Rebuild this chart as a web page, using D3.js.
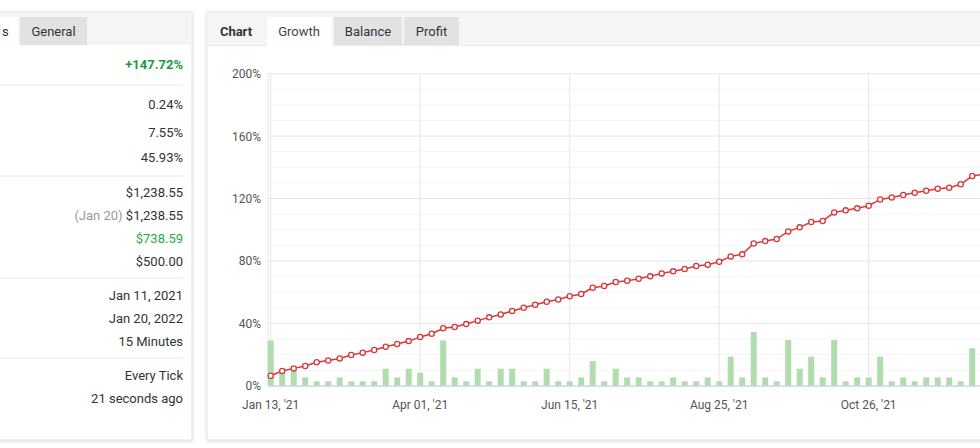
<!DOCTYPE html>
<html><head><meta charset="utf-8">
<script src="https://cdn.jsdelivr.net/npm/d3@7"></script>
<style>
body{margin:0;background:#fff;font-family:Roboto,"Noto Sans",sans-serif;}
svg{display:block}
</style></head><body>
<svg id="c" width="980" height="448"></svg>
<script>
const growth=[6.4,9.4,11.1,12.6,15,16.2,17.5,19.7,21.2,22.9,25,26.7,28.6,31.2,33.3,36.8,37.6,39.5,41.7,43.8,45.7,47.9,50,51.9,53.8,55.3,57.3,58.8,62.8,63.9,
66.5,67.3,68.6,70.1,72,73.3,74.8,76.7,77.6,79.5,82.9,84.2,91.2,92.7,94,98.9,101.5,104.9,105.6,111.1,112.4,113.7,115.4,119.4,120.7,122.2,123.7,125,126.3,126.9,129.1,134.4,135.7];
const profit=[29,8,10,5.3,2.8,2.8,5.3,2.8,2.8,2.8,10.9,5.3,10.9,8.3,2.8,29,5.3,2.8,10.9,2.8,10.9,10.9,2.8,2.8,10.9,2.8,2.8,5.3,15.8,2.8,
10.9,5.3,5.3,2.8,2.8,5.3,2.8,2.8,5.3,2.8,18.6,5.3,34.4,5.3,2.8,29.3,10.9,18.6,5.3,29.3,2.8,5.3,5.3,18.6,2.8,5.3,2.8,5.3,5.3,5.3,2.8,24,2.8];
const xTickIdx=[0,13,26,39,52];
const xTickLabels=["Jan 13, '21","Apr 01, '21","Jun 15, '21","Aug 25, '21","Oct 26, '21"];
const yTicks=[0,40,80,120,160,200];
const statsValues=[["+147.72%","#1a9a3a",true],null,["0.24%"],["7.55%"],["45.93%"],null,["$1,238.55"],["$1,238.55","",false,"(Jan 20) "],["$738.59","#2aa84a"],["$500.00"],null,["Jan 11, 2021"],["Jan 20, 2022"],["15 Minutes"],null,["Every Tick"],["21 seconds ago"]];
const statsY=[64,85,104,132,157,176,192,215,238,261,278,295,318,341,358,375,398];

const svg=d3.select("#c");
const defs=svg.append("defs");
const f=defs.append("filter").attr("id","sh").attr("x","-5%").attr("y","-5%").attr("width","110%").attr("height","110%");
f.append("feDropShadow").attr("dx",0).attr("dy",1).attr("stdDeviation",1.5).attr("flood-color","#000").attr("flood-opacity",0.15);

// left card
svg.append("rect").attr("x",-10).attr("y",12).attr("width",202).attr("height",428).attr("fill","#fff").attr("stroke","#e3e3e3").attr("filter","url(#sh)");
svg.append("rect").attr("x",-10).attr("y",13).attr("width",201).attr("height",32).attr("fill","#f5f5f5");
svg.append("rect").attr("x",-10).attr("y",17).attr("width",28).attr("height",29).attr("fill","#fff");
svg.append("text").attr("x",2).attr("y",36).text("s").attr("font-size",13).attr("fill","#333");
svg.append("rect").attr("x",20).attr("y",17).attr("width",67).attr("height",28).attr("fill","#e2e2e2");
svg.append("text").attr("x",53.5).attr("y",36).attr("text-anchor","middle").text("General").attr("font-size",13).attr("fill","#333");
statsValues.forEach((s,i)=>{
  const y=statsY[i];
  if(!s){svg.append("line").attr("x1",-10).attr("x2",183).attr("y1",y).attr("y2",y).attr("stroke","#e6e6e6");return;}
  const t=svg.append("text").attr("x",183).attr("y",y+4.5).attr("text-anchor","end").attr("font-size",13)
   .attr("fill",s[1]||"#333").attr("font-weight",s[2]?"bold":"normal");
  if(s[3]) t.append("tspan").attr("fill","#999").text(s[3]);
  t.append("tspan").text(s[0]);
});

// right card
svg.append("rect").attr("x",207).attr("y",12).attr("width",790).attr("height",428).attr("fill","#fff").attr("stroke","#e3e3e3").attr("filter","url(#sh)");
svg.append("rect").attr("x",208).attr("y",13).attr("width",780).attr("height",32).attr("fill","#f5f5f5");
svg.append("line").attr("x1",208).attr("x2",980).attr("y1",45.5).attr("y2",45.5).attr("stroke","#ececec");
svg.append("text").attr("x",236).attr("y",36).attr("text-anchor","middle").text("Chart").attr("font-size",13).attr("font-weight","bold").attr("fill","#333");
svg.append("rect").attr("x",267).attr("y",17).attr("width",65).attr("height",29).attr("fill","#fff");
svg.append("text").attr("x",299).attr("y",36).attr("text-anchor","middle").text("Growth").attr("font-size",13).attr("fill","#444");
[["Balance",334,68],["Profit",404,55]].forEach(([t,x,w])=>{
  svg.append("rect").attr("x",x).attr("y",17).attr("width",w).attr("height",28).attr("fill","#e2e2e2");
  svg.append("text").attr("x",x+w/2).attr("y",36).attr("text-anchor","middle").text(t).attr("font-size",13).attr("fill","#333");
});

const x=d3.scaleLinear().domain([0,1]).range([270.7,282.2]);
const y=d3.scaleLinear().domain([0,200]).range([385.7,73.7]);
const left=268, right=985;
const g=svg.append("g");
// minor grid
d3.range(0,201,10).forEach(v=>{ if(v%40) g.append("line").attr("x1",left).attr("x2",right).attr("y1",y(v)).attr("y2",y(v)).attr("stroke","#f4f4f4");});
g.selectAll(".yg").data(yTicks).join("line").attr("x1",left).attr("x2",right).attr("y1",d=>y(d)).attr("y2",d=>y(d)).attr("stroke","#e6e6e6");
g.selectAll(".xg").data(xTickIdx).join("line").attr("x1",d=>x(d)).attr("x2",d=>x(d)).attr("y1",y(200)).attr("y2",y(0)).attr("stroke","#e6e6e6");
g.append("line").attr("x1",left).attr("x2",left).attr("y1",y(200)).attr("y2",y(0)).attr("stroke","#e6e6e6");
g.selectAll(".yl").data(yTicks).join("text").attr("x",261).attr("y",d=>y(d)+4.5).attr("text-anchor","end").attr("font-size",12).attr("fill","#555").text(d=>d+"%");
g.selectAll(".xl").data(xTickIdx).join("text").attr("x",d=>x(d)).attr("y",409).attr("text-anchor","middle").attr("font-size",12).attr("fill","#555").text((d,i)=>xTickLabels[i]);
g.selectAll(".bar").data(profit).join("rect").attr("x",(d,i)=>x(i)-3).attr("width",6).attr("y",d=>y(d)).attr("height",d=>y(0)-y(d)).attr("fill","#b1dcae");
g.append("line").attr("x1",left).attr("x2",right).attr("y1",y(0)+0.5).attr("y2",y(0)+0.5).attr("stroke","#c8d0e0");
g.append("path").datum(growth).attr("d",d3.line().x((d,i)=>x(i)).y(d=>y(d))).attr("fill","none").attr("stroke","#d9383a").attr("stroke-width",1.5);
g.selectAll(".pt").data(growth).join("circle").attr("cx",(d,i)=>x(i)).attr("cy",d=>y(d)).attr("r",2.6).attr("fill","#fff").attr("stroke","#d9383a").attr("stroke-width",1.3);
</script></body></html>
